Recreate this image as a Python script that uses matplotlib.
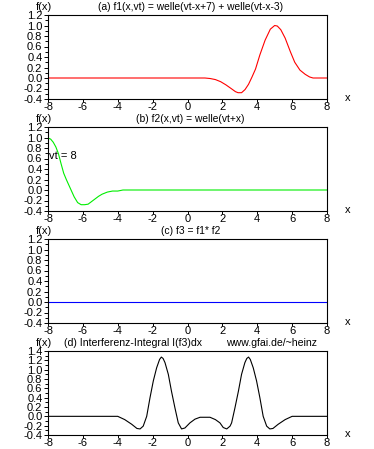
import matplotlib
matplotlib.use("Agg")
import matplotlib.pyplot as plt
import matplotlib.transforms as mtrans
from matplotlib.ticker import MultipleLocator, FormatStrFormatter

plt.rcParams['font.family'] = ['Liberation Sans', 'DejaVu Sans']
plt.rcParams['axes.unicode_minus'] = False
plt.rcParams['font.size'] = 8

# ---- data ----
xa = [-8, 1.0, 1.3, 1.6, 1.9, 2.2, 2.5, 2.75, 2.9, 3.1, 3.3, 3.5, 3.7, 3.9, 4.15, 4.45,
      4.75, 5.0, 5.15, 5.35, 5.6, 5.9, 6.15, 6.45, 6.75, 7.0, 7.2, 8]
ya = [0, 0, -0.01, -0.03, -0.07, -0.13, -0.2, -0.26, -0.28, -0.28, -0.22, -0.12, 0.02, 0.17,
      0.44, 0.72, 0.93, 1.0, 0.99, 0.92, 0.76, 0.5, 0.3, 0.15, 0.07, 0.02, 0.0, 0]

xb = [-8, -7.85, -7.7, -7.55, -7.4, -7.25, -7.1, -6.95, -6.8, -6.65, -6.5, -6.3, -6.1,
      -5.9, -5.7, -5.5, -5.3, -5.1, -4.9, -4.6, -4.3, -4.0, -3.7, 8]
yb = [0.99, 0.97, 0.91, 0.82, 0.69, 0.5, 0.32, 0.2, 0.09, -0.02, -0.13, -0.24, -0.28,
      -0.28, -0.27, -0.22, -0.17, -0.12, -0.08, -0.04, -0.02, -0.02, 0.0, 0.0]

xc = [-8, 8]
yc = [0, 0]

xd = [-8, -4.0, -3.6, -3.2, -2.9, -2.72, -2.54, -2.34, -2.15, -1.96, -1.77, -1.6, -1.5,
      -1.4, -1.29, -1.1, -0.92, -0.72, -0.53, -0.34, -0.15, 0.14, 0.43, 0.72, 1.0, 1.29,
      1.6, 1.86, 2.05, 2.25, 2.44, 2.53, 2.72, 2.92, 3.1, 3.29, 3.4, 3.5, 3.6, 3.77, 3.96,
      4.15, 4.34, 4.54, 4.72, 4.9, 5.2, 5.6, 6.0, 8]
yd = [0, 0, -0.07, -0.17, -0.26, -0.27, -0.21, 0.0, 0.40, 0.76, 1.04, 1.22, 1.27,
      1.24, 1.15, 0.9, 0.54, 0.18, -0.14, -0.27, -0.25, -0.14, -0.06, -0.02, -0.02, -0.02,
      -0.07, -0.14, -0.24, -0.27, -0.21, -0.14, 0.18, 0.54, 0.9, 1.15, 1.24, 1.27, 1.22, 1.04,
      0.76, 0.40, 0.0, -0.21, -0.27, -0.26, -0.17, -0.07, 0.0, 0]

titles = ["(a) f1(x,vt) = welle(vt-x+7) + welle(vt-x-3)",
          "(b) f2(x,vt) = welle(vt+x)",
          "(c) f3 = f1* f2",
          "(d) Interferenz-Integral I(f3)dx"]
credit = "www.gfai.de/~heinz"
colors = ["#ff0000", "#00ee00", "#0000ff", "#000000"]
ylims = [(-0.4, 1.2), (-0.4, 1.2), (-0.4, 1.2), (-0.4, 1.4)]
series = [(xa, ya), (xb, yb), (xc, yc), (xd, yd)]

W, H = 374, 449
fig = plt.figure(figsize=(W / 100, H / 100), dpi=100)

tops = [15, 127, 239, 351]
left_px, right_px = 48, 327
h_px = 84
wpx = right_px - left_px

for i in range(4):
    top = tops[i]
    ax = fig.add_axes([left_px / W, 1 - (top + h_px) / H, wpx / W, h_px / H])
    x, y = series[i]
    ax.plot(x, y, color=colors[i], lw=0.8)
    ax.set_xlim(-8, 8)
    ax.set_ylim(*ylims[i])
    ax.xaxis.set_major_locator(MultipleLocator(2))
    ax.yaxis.set_major_locator(MultipleLocator(0.2))
    ax.yaxis.set_minor_locator(MultipleLocator(0.1))
    ax.yaxis.set_major_formatter(FormatStrFormatter('%.1f'))
    ax.tick_params(axis='y', which='major', length=3, width=0.7, pad=1, labelsize=8)
    ax.tick_params(axis='y', which='minor', length=2, width=0.7)
    ax.tick_params(axis='x', which='major', length=2, width=0.7, pad=0, labelsize=8)
    for s in ax.spines.values():
        s.set_linewidth(0.8)

    off = mtrans.offset_copy(ax.transAxes, fig=fig, x=0, y=2.2, units='points')
    ax.text(-12 / wpx, 1.0, "f(x)", transform=off, ha='left', va='bottom', fontsize=8)
    if i < 3:
        ax.text(0.51, 1.0, titles[i], transform=off, ha='center', va='bottom', fontsize=7.4)
    else:
        ax.text(16 / wpx, 1.0, titles[i], transform=off, ha='left', va='bottom', fontsize=7.6)
        ax.text(178 / wpx, 1.0, credit, transform=off, ha='left', va='bottom', fontsize=7.6)
    xlab_tr = mtrans.blended_transform_factory(mtrans.IdentityTransform(), ax.transAxes)
    ax.text(348, 0.01, "x", transform=xlab_tr, ha='center', va='center', fontsize=8)
    if i == 1:
        ax.text(-7.93, 0.64, "vt = 8", ha='left', va='center', fontsize=8)

fig.savefig("out.png", dpi=100)
